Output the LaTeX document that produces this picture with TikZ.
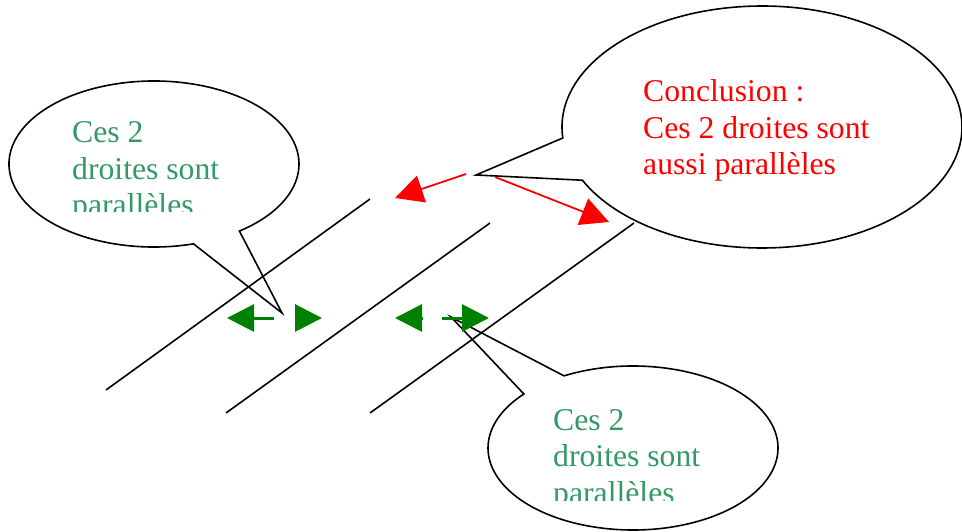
\documentclass[tikz,border=0pt]{standalone}
\usepackage{fontspec}
\setmainfont{Liberation Serif}
\usetikzlibrary{arrows.meta,calc}
\definecolor{seagreen}{RGB}{51,153,102}
\definecolor{dkgreen}{RGB}{0,128,0}
\begin{document}
\begin{tikzpicture}[x=1pt,y=-1pt,
  callout/.style={draw=black,line width=1.6pt,line join=miter},
  parline/.style={draw=black,line width=1.6pt},
  redarrow/.style={draw=red,line width=1.8pt,-{Triangle[length=28pt,width=28pt]}},
  greenarrow/.style={draw=dkgreen,line width=3pt,-{Triangle[length=27pt,width=27pt]}},
  txt/.style={anchor=base west,inner sep=0pt,font=\fontsize{31.7}{36.5}\selectfont}]
\useasboundingbox (0,0) rectangle (962,532);
% centres and tips
\coordinate (Lc) at (154,164);
\coordinate (Ltip) at (282,313);
\coordinate (Rc) at (762,127);
\coordinate (Rtip) at (476,175);
\coordinate (Bc) at (633,448);
\coordinate (Btip) at (451,317);
% callouts
\draw[callout] ($(Lc)+(53.9:145 and 83)$) -- (Ltip) -- ($(Lc)+(74.2:145 and 83)$)
  arc[start angle=74.2,end angle=413.9,x radius=145,y radius=83] -- cycle;
\draw[callout] ($(Rc)+(153.9:200 and 121)$) -- (Rtip) -- ($(Rc)+(174.8:200 and 121)$)
  arc[start angle=174.8,end angle=513.9,x radius=200,y radius=121] -- cycle;
\draw[callout] ($(Bc)+(221.2:145 and 82)$) -- (Btip) -- ($(Bc)+(241.6:145 and 82)$)
  arc[start angle=241.6,end angle=581.2,x radius=145,y radius=82] -- cycle;
% parallel lines
\coordinate (a1) at (106,390); \coordinate (a2) at (370,199);
\coordinate (b1) at (226,413); \coordinate (b2) at (490,223);
\coordinate (c1) at (370,413); \coordinate (c2) at (634,223);
\draw[parline] (a1) -- (a2);
\draw[parline] (b1) -- (b2);
\draw[parline] (c1) -- (c2);
% red arrows
\coordinate (r0) at (466,174); \coordinate (r1) at (395,198);
\coordinate (s0) at (495,177); \coordinate (s1) at (609,222);
\draw[redarrow] (r0) -- (r1);
\draw[redarrow] (s0) -- (s1);
% green arrows
\coordinate (g1s) at (274,318); \coordinate (g1e) at (227,318);
\coordinate (g2s) at (294.5,318); \coordinate (g2e) at (322,318);
\coordinate (g3s) at (422.5,318); \coordinate (g3e) at (395,318);
\coordinate (g4s) at (442,318); \coordinate (g4e) at (489,318);
\draw[greenarrow] (g1s) -- (g1e);
\draw[greenarrow] (g2s) -- (g2e);
\draw[greenarrow] (g3s) -- (g3e);
\draw[greenarrow] (g4s) -- (g4e);
% texts
\begin{scope}
\clip (60,100) rectangle (300,212);
\node[txt,text=seagreen] (tL) at (72,143) {\begin{tabular}[t]{@{}l@{}}Ces 2\\droites sont\\parallèles\end{tabular}};
\end{scope}
\node[txt,text=red] (tR) at (643,102) {\begin{tabular}[t]{@{}l@{}}Conclusion :\\Ces 2 droites sont\\aussi parallèles\end{tabular}};
\begin{scope}
\clip (540,380) rectangle (780,500);
\node[txt,text=seagreen] (tB) at (553,430) {\begin{tabular}[t]{@{}l@{}}Ces 2\\droites sont\\parallèles\end{tabular}};
\end{scope}
\end{tikzpicture}
\end{document}
